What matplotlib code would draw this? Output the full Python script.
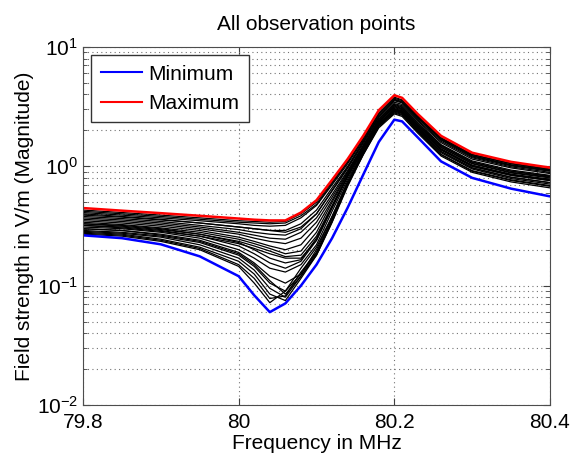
import matplotlib
matplotlib.use("Agg")
import matplotlib.pyplot as plt
from matplotlib.ticker import LogLocator, NullFormatter, FixedLocator

plt.rcParams['font.family'] = ['Liberation Sans', 'DejaVu Sans']

# frequency nodes (MHz)
freq = [79.80, 79.85, 79.90, 79.95, 80.00, 80.02, 80.04, 80.06, 80.08, 80.10,
        80.12, 80.14, 80.16, 80.18, 80.20, 80.21, 80.23, 80.26, 80.30, 80.35, 80.40]

# envelope curves (V/m)
field_min = [0.264, 0.250, 0.222, 0.176, 0.120, 0.083, 0.060, 0.071, 0.100, 0.150,
             0.25, 0.45, 0.85, 1.60, 2.46, 2.38, 1.75, 1.10, 0.80, 0.65, 0.56]
field_max = [0.447, 0.425, 0.405, 0.385, 0.365, 0.357, 0.352, 0.352, 0.41, 0.52,
             0.77, 1.15, 1.80, 2.95, 3.94, 3.75, 2.75, 1.80, 1.30, 1.09, 0.975]

# individual observation points
points = [
    [0.43, 0.41, 0.39, 0.37, 0.35, 0.345, 0.34, 0.345, 0.40, 0.50, 0.74, 1.10, 1.72, 2.80, 3.80, 3.60, 2.65, 1.74, 1.26, 1.06, 0.95],
    [0.41, 0.39, 0.37, 0.35, 0.33, 0.32, 0.315, 0.32, 0.37, 0.47, 0.70, 1.05, 1.65, 2.70, 3.65, 3.48, 2.58, 1.70, 1.23, 1.03, 0.93],
    [0.40, 0.38, 0.36, 0.335, 0.31, 0.30, 0.29, 0.29, 0.33, 0.43, 0.66, 1.00, 1.60, 2.60, 3.55, 3.40, 2.52, 1.66, 1.20, 1.01, 0.91],
    [0.38, 0.365, 0.345, 0.32, 0.295, 0.28, 0.27, 0.265, 0.30, 0.40, 0.62, 0.96, 1.55, 2.55, 3.45, 3.30, 2.45, 1.62, 1.18, 0.99, 0.89],
    [0.37, 0.355, 0.335, 0.31, 0.28, 0.265, 0.25, 0.245, 0.28, 0.37, 0.58, 0.92, 1.50, 2.48, 3.35, 3.22, 2.40, 1.58, 1.15, 0.97, 0.87],
    [0.36, 0.345, 0.325, 0.30, 0.27, 0.25, 0.235, 0.225, 0.25, 0.34, 0.55, 0.90, 1.48, 2.45, 3.30, 3.15, 2.33, 1.52, 1.11, 0.93, 0.84],
    [0.35, 0.335, 0.315, 0.29, 0.255, 0.235, 0.215, 0.20, 0.22, 0.31, 0.52, 0.88, 1.45, 2.40, 3.20, 3.05, 2.25, 1.48, 1.08, 0.91, 0.82],
    [0.34, 0.325, 0.305, 0.28, 0.245, 0.225, 0.205, 0.185, 0.195, 0.28, 0.50, 0.86, 1.42, 2.35, 3.10, 2.98, 2.20, 1.44, 1.05, 0.88, 0.80],
    [0.33, 0.315, 0.295, 0.27, 0.235, 0.215, 0.195, 0.175, 0.18, 0.26, 0.47, 0.83, 1.40, 2.30, 3.00, 2.90, 2.15, 1.40, 1.02, 0.86, 0.78],
    [0.32, 0.305, 0.285, 0.26, 0.225, 0.205, 0.185, 0.17, 0.17, 0.24, 0.45, 0.82, 1.38, 2.28, 2.95, 2.85, 2.10, 1.37, 1.00, 0.84, 0.76],
    [0.39, 0.375, 0.355, 0.335, 0.31, 0.30, 0.29, 0.28, 0.31, 0.40, 0.63, 0.98, 1.60, 2.62, 3.60, 3.45, 2.55, 1.68, 1.22, 1.02, 0.92],
    [0.42, 0.40, 0.38, 0.36, 0.34, 0.335, 0.33, 0.335, 0.385, 0.48, 0.72, 1.08, 1.70, 2.75, 3.72, 3.55, 2.62, 1.72, 1.25, 1.05, 0.94],
    [0.31, 0.30, 0.28, 0.25, 0.20, 0.17, 0.14, 0.13, 0.15, 0.22, 0.42, 0.78, 1.35, 2.25, 2.95, 2.82, 2.05, 1.33, 0.97, 0.81, 0.73],
    [0.30, 0.29, 0.27, 0.24, 0.19, 0.155, 0.12, 0.105, 0.125, 0.20, 0.38, 0.75, 1.32, 2.20, 2.90, 2.78, 2.02, 1.30, 0.95, 0.79, 0.71],
    [0.29, 0.28, 0.26, 0.23, 0.18, 0.145, 0.105, 0.09, 0.125, 0.19, 0.36, 0.72, 1.30, 2.22, 3.00, 2.88, 2.12, 1.38, 1.00, 0.84, 0.76],
    [0.285, 0.275, 0.255, 0.22, 0.17, 0.135, 0.095, 0.08, 0.12, 0.185, 0.35, 0.70, 1.28, 2.18, 2.85, 2.72, 1.98, 1.26, 0.92, 0.77, 0.69],
    [0.28, 0.27, 0.245, 0.21, 0.16, 0.125, 0.085, 0.075, 0.115, 0.18, 0.34, 0.68, 1.25, 2.10, 2.75, 2.62, 1.90, 1.22, 0.89, 0.74, 0.66],
    [0.275, 0.265, 0.24, 0.205, 0.15, 0.115, 0.078, 0.082, 0.13, 0.19, 0.36, 0.70, 1.25, 2.15, 2.80, 2.68, 1.95, 1.25, 0.91, 0.76, 0.68],
    [0.27, 0.26, 0.235, 0.20, 0.145, 0.105, 0.072, 0.09, 0.14, 0.21, 0.38, 0.72, 1.28, 2.20, 2.90, 2.78, 2.05, 1.33, 0.97, 0.81, 0.73],
    [0.30, 0.29, 0.265, 0.235, 0.185, 0.15, 0.11, 0.085, 0.12, 0.18, 0.34, 0.70, 1.30, 2.25, 3.05, 2.92, 2.15, 1.40, 1.02, 0.85, 0.77],
    [0.32, 0.31, 0.29, 0.26, 0.215, 0.185, 0.155, 0.14, 0.16, 0.24, 0.45, 0.82, 1.40, 2.35, 3.15, 3.02, 2.22, 1.45, 1.06, 0.89, 0.81],
    [0.33, 0.32, 0.30, 0.27, 0.23, 0.20, 0.17, 0.155, 0.165, 0.25, 0.46, 0.84, 1.42, 2.38, 3.25, 3.10, 2.30, 1.50, 1.09, 0.91, 0.83],
]

xticks = [79.8, 80.0, 80.2, 80.4]
xtick_labels = ['79.8', '80', '80.2', '80.4']

fig = plt.figure(figsize=(5.71, 4.62), dpi=100)
ax = fig.add_axes([0.1454, 0.1234, 0.8178, 0.7749])

for p in points:
    ax.plot(freq, p, color='black', linewidth=0.9)
ax.plot(freq, field_min, color='#0000ff', linewidth=1.8, label='Minimum')
ax.plot(freq, field_max, color='#ff0000', linewidth=1.8, label='Maximum')

ax.set_yscale('log')
ax.set_xlim(79.8, 80.4)
ax.set_ylim(1e-2, 1e1)
ax.xaxis.set_major_locator(FixedLocator(xticks))
ax.set_xticklabels(xtick_labels)
ax.yaxis.set_major_locator(LogLocator(base=10, numticks=10))
ax.yaxis.set_minor_locator(LogLocator(base=10, subs=range(2, 10), numticks=10))
ax.yaxis.set_minor_formatter(NullFormatter())

# matlab-like dotted grid
ax.grid(True, which='major', linestyle=(0, (1, 3)), color='0.45', linewidth=0.8)
ax.grid(True, which='minor', axis='y', linestyle=(0, (1, 3)), color='0.45', linewidth=0.8)

ax.tick_params(which='both', direction='in', top=True, right=True, labelsize=15, color='0.25')
ax.tick_params(which='major', length=5)
ax.tick_params(axis='x', pad=6)
ax.tick_params(which='minor', length=3)
for s in ax.spines.values():
    s.set_color('0.3')

ax.set_title('All observation points', fontsize=15, pad=12)
ax.set_xlabel('Frequency in MHz', fontsize=15, labelpad=1)
ax.set_ylabel('Field strength in V/m (Magnitude)', fontsize=15, labelpad=2)

leg = ax.legend(loc='upper left', fontsize=15, fancybox=False, framealpha=1,
                edgecolor='0.2', borderaxespad=0.4, handlelength=2.0,
                handletextpad=0.3, borderpad=0.45)
leg.get_frame().set_linewidth(1.0)
for h in leg.get_lines():
    h.set_linewidth(1.5)

fig.savefig('out.png', dpi=100)
